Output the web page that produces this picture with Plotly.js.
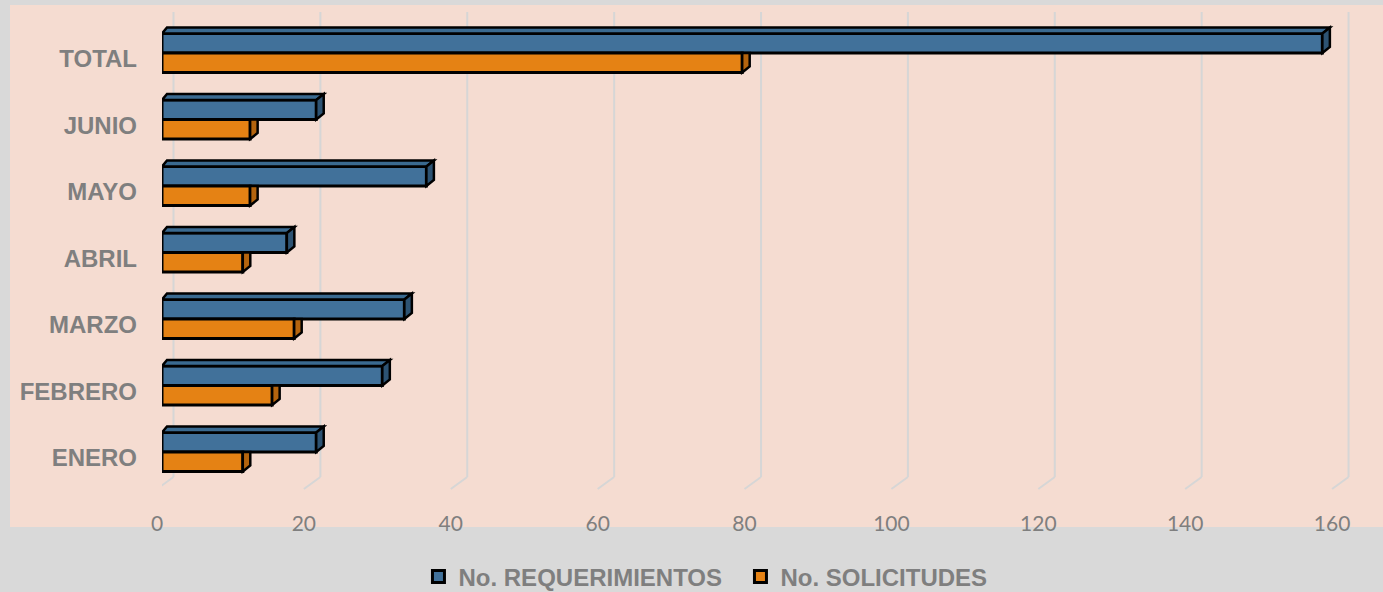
<!DOCTYPE html>
<html>
<head>
<meta charset="utf-8">
<script src="https://cdn.plot.ly/plotly-3.0.1.min.js"></script>
<style>html,body{margin:0;padding:0;background:#d9d9d9;}#chart{width:1383px;height:592px;}</style>
</head>
<body>
<div id="chart"></div>
<script>
// ---- data ----
const categories = ['ENERO', 'FEBRERO', 'MARZO', 'ABRIL', 'MAYO', 'JUNIO', 'TOTAL'];
const requerimientos = [21, 30, 33, 17, 36, 21, 158];
const solicitudes = [11, 15, 18, 11, 12, 12, 79];
const xTickVals = [0, 20, 40, 60, 80, 100, 120, 140, 160];
const seriesNames = ['No. REQUERIMIENTOS', 'No. SOLICITUDES'];

// ---- layout geometry ----
const W = 1383, H = 592;
const M = {l: 162, r: 9, t: 5, b: 97};
const plotW = W - M.l - M.r, plotH = H - M.t - M.b;
const xMax = 165.03;
const yRange = [-0.647, 6.722];
const PXX = plotW / xMax;
const PXY = plotH / (yRange[1] - yRange[0]);
const barH = 19.5 / PXY;
const DY = 6 / PXY, DXR = 7.5 / PXX, DXL = 5 / PXX;
const py = p => (H - M.b - p) / plotH; // pixel y -> paper

const blue = '#41719a', blueTop = '#3a6a90', blueSide = '#2d5373';
const orange = '#e58214', orangeSide = '#b4640e';
const gray = '#7f7f7f';

const yIdx = categories.map((c, i) => i);

const traces = [
  {type: 'bar', orientation: 'h', name: seriesNames[0], y: yIdx, x: requerimientos,
   width: barH, offset: 0, marker: {color: blue, line: {color: '#000', width: 3}}},
  {type: 'bar', orientation: 'h', name: seriesNames[1], y: yIdx, x: solicitudes,
   width: barH, offset: -barH, marker: {color: orange, line: {color: '#000', width: 3}}}
];

const shapes = [];
// peach chart area
shapes.push({type: 'rect', xref: 'paper', yref: 'paper', layer: 'below',
  x0: (10 - M.l) / plotW, x1: (W - M.l) / plotW, y0: py(527), y1: 1,
  fillcolor: '#f5dcd1', line: {width: 0}});
// 3D style gridlines
xTickVals.forEach(k => {
  shapes.push({type: 'line', xref: 'x', yref: 'paper', layer: 'below', xsizemode: 'pixel', xanchor: k,
    x0: 11.5, x1: 11.5, y0: py(477), y1: py(12), line: {color: '#d6d6d6', width: 2}});
  shapes.push({type: 'line', xref: 'x', yref: 'paper', layer: 'below', xsizemode: 'pixel', xanchor: k,
    x0: 11.5, x1: -5, y0: py(477), y1: py(489), line: {color: '#d6d6d6', width: 2}});
});
// 3D faces of bars
yIdx.forEach(i => {
  const b = requerimientos[i], o = solicitudes[i];
  const yt = i + barH, yb = i - barH;
  shapes.push({type: 'path', xref: 'x', yref: 'y', layer: 'above',
    path: `M 0,${yt} L ${DXL},${yt + DY} L ${b + DXR},${yt + DY} L ${b},${yt} Z`,
    fillcolor: blueTop, line: {color: '#000', width: 2.5}});
  shapes.push({type: 'path', xref: 'x', yref: 'y', layer: 'above',
    path: `M ${b},${i} L ${b + DXR},${i + DY} L ${b + DXR},${yt + DY} L ${b},${yt} Z`,
    fillcolor: blueSide, line: {color: '#000', width: 2.5}});
  shapes.push({type: 'path', xref: 'x', yref: 'y', layer: 'above',
    path: `M ${o},${yb} L ${o + DXR},${yb + DY} L ${o + DXR},${i} L ${o},${i} Z`,
    fillcolor: orangeSide, line: {color: '#000', width: 2.5}});
});

const layout = {
  width: W, height: H,
  margin: M,
  paper_bgcolor: '#d9d9d9',
  plot_bgcolor: '#f5dcd1',
  barmode: 'overlay',
  showlegend: true,
  hovermode: false,
  xaxis: {range: [0, xMax], tickvals: xTickVals, showgrid: false, zeroline: false, showline: false,
    ticks: '', ticklabelstandoff: 14, ticklabelshift: -5,
    tickfont: {family: 'Lato, "Open Sans", sans-serif', size: 21, color: gray}},
  yaxis: {range: yRange, tickvals: yIdx, ticktext: categories, showgrid: false, zeroline: false, showline: false,
    ticks: '', ticklabelstandoff: 24, ticklabelshift: 6,
    tickfont: {family: '"Liberation Sans", Arial, sans-serif', size: 24, weight: 'bold', color: gray}},
  legend: {orientation: 'h', xref: 'container', yref: 'container', x: 0.5354, xanchor: 'center',
    y: 1 - 577 / H, yanchor: 'middle', bgcolor: 'rgba(0,0,0,0)', itemwidth: 30,
    entrywidthmode: 'pixels', entrywidth: 277,
    font: {family: '"Liberation Sans", Arial, sans-serif', size: 24, weight: 'bold', color: gray}},
  shapes: shapes
};

Plotly.newPlot('chart', traces, layout, {displayModeBar: false, staticPlot: true});
</script>
</body>
</html>
